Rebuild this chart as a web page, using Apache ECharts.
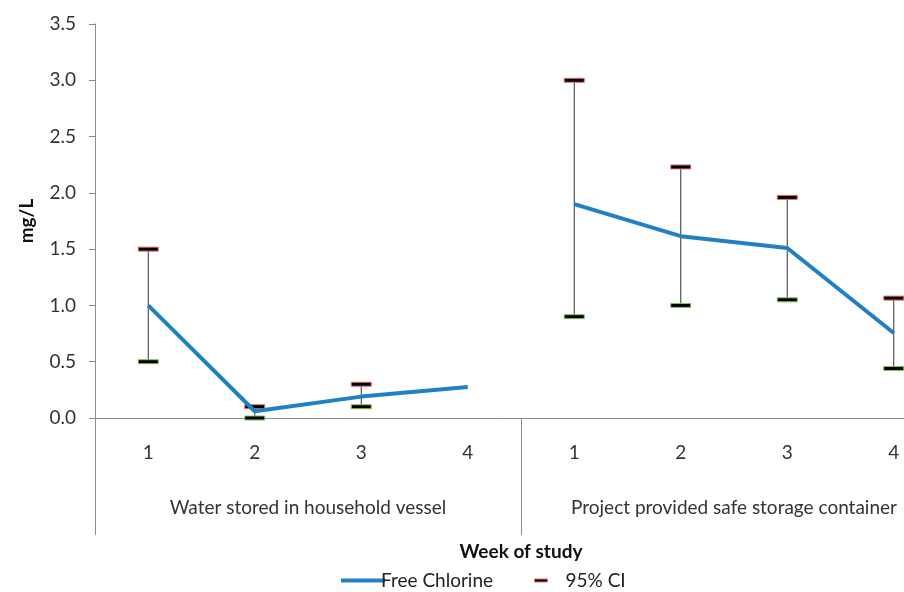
<!DOCTYPE html>
<html>
<head>
<meta charset="utf-8">
<script src="https://cdn.jsdelivr.net/npm/echarts@6/dist/echarts.min.js"></script>
<style>
	html, body { margin: 0; padding: 0; background: #fff; }
	#chart { width: 904px; height: 592px; }
</style>
</head>
<body>
<div id="chart"></div>
<script>
"use strict";

var weeks = ['1', '2', '3', '4', '1', '2', '3', '4'];
var groups = ['Water stored in household vessel', 'Project provided safe storage container'];

// free chlorine, one run for each storage type (line is broken between them)
var chlorineHousehold = [1.0, 0.06, 0.19, 0.275, '-', '-', '-', '-'];
var chlorineProject = ['-', '-', '-', '-', 1.9, 1.615, 1.51, 0.755];

// 95% CI bounds, week 4 of household has none
var ciLow = [0.5, 0.0, 0.1, null, 0.9, 1.0, 1.05, 0.44];
var ciHigh = [1.5, 0.1, 0.3, null, 3.0, 2.23, 1.96, 1.065];

var yTicks = { min: 0, max: 3.5, interval: 0.5 };

var FONT = 'Lato';
var FONT_SIZE = 19;
var AXIS_GREY = '#8c8c8c';
var LINE_BLUE = '#2180c4';

var ciData = [];
for (var i = 0; i < weeks.length; i++) {
	if (ciLow[i] !== null) {
		ciData.push([i, ciLow[i], ciHigh[i]]);
	}
}

function renderCI(params, api) {
	var lo = api.coord([api.value(0), api.value(1)]);
	var hi = api.coord([api.value(0), api.value(2)]);
	var w = 20, h = 4;
	return {
		type: 'group',
		children: [{
			type: 'line',
			shape: { x1: lo[0], y1: lo[1], x2: hi[0], y2: hi[1] },
			style: { stroke: '#333', lineWidth: 1 }
		}, {
			type: 'rect',
			shape: { x: hi[0] - w / 2, y: hi[1] - h / 2, width: w, height: h },
			style: { fill: '#000', stroke: '#e87070', lineWidth: 1 }
		}, {
			type: 'rect',
			shape: { x: lo[0] - w / 2, y: lo[1] - h / 2, width: w, height: h },
			style: { fill: '#000', stroke: '#8cc05a', lineWidth: 1 }
		}]
	};
}

var chart = echarts.init(document.getElementById('chart'));

chart.setOption({
	animation: false,
	textStyle: { fontFamily: FONT },
	grid: {
		left: 95,
		top: 24,
		width: 852,
		height: 394,
		outerBoundsMode: 'none',
		containLabel: false
	},
	legend: [{
		left: 336,
		top: 566,
		itemWidth: 44,
		itemHeight: 4,
		itemGap: 4,
		data: [{ name: 'Free Chlorine', icon: 'rect', itemStyle: { color: LINE_BLUE } }],
		textStyle: { fontFamily: FONT, fontSize: FONT_SIZE, color: '#222', padding: [0, 0, 0, -9] }
	}, {
		left: 529,
		top: 566,
		itemWidth: 13,
		itemHeight: 3,
		itemGap: 18,
		data: [{ name: '95% CI', icon: 'rect', itemStyle: { color: '#000', borderColor: '#e87070', borderWidth: 1 } }],
		textStyle: { fontFamily: FONT, fontSize: FONT_SIZE, color: '#222', padding: [0, 0, 0, 13] }
	}],
	xAxis: [{
		type: 'category',
		position: 'bottom',
		data: weeks,
		boundaryGap: true,
		axisLine: { show: true, lineStyle: { color: AXIS_GREY, width: 1 } },
		axisTick: { show: false },
		axisLabel: { margin: 25, fontSize: FONT_SIZE, color: '#333', fontFamily: FONT },
		name: 'Week of study',
		nameLocation: 'middle',
		nameGap: 124,
		nameTextStyle: { fontSize: FONT_SIZE, fontWeight: 'bold', color: '#111', fontFamily: FONT }
	}, {
		type: 'category',
		position: 'bottom',
		data: groups,
		boundaryGap: true,
		axisLine: { show: false },
		axisTick: { show: true, interval: 0, length: 117, lineStyle: { color: AXIS_GREY, width: 1 } },
		axisLabel: { margin: 80, fontSize: FONT_SIZE, color: '#333', fontFamily: FONT, interval: 0 }
	}],
	yAxis: {
		type: 'value',
		min: yTicks.min,
		max: yTicks.max,
		interval: yTicks.interval,
		splitLine: { show: false },
		axisLine: { show: true, lineStyle: { color: AXIS_GREY, width: 1 } },
		axisTick: { show: true, length: 6, lineStyle: { color: AXIS_GREY } },
		axisLabel: {
			margin: 19,
			fontSize: FONT_SIZE,
			color: '#333',
			fontFamily: FONT,
			formatter: function(v) { return v.toFixed(1); }
		},
		name: 'mg/L',
		nameLocation: 'middle',
		nameGap: 59,
		nameRotate: 90,
		nameTextStyle: { fontSize: FONT_SIZE, fontWeight: 'bold', color: '#111', fontFamily: FONT }
	},
	series: [{
		name: '95% CI',
		type: 'custom',
		renderItem: renderCI,
		data: ciData,
		encode: { x: 0, y: [1, 2] },
		z: 2
	}, {
		name: 'Free Chlorine',
		type: 'line',
		data: chlorineHousehold,
		symbol: 'none',
		connectNulls: false,
		lineStyle: { color: LINE_BLUE, width: 4 },
		itemStyle: { color: LINE_BLUE },
		z: 3
	}, {
		name: 'Free Chlorine',
		type: 'line',
		data: chlorineProject,
		symbol: 'none',
		connectNulls: false,
		lineStyle: { color: LINE_BLUE, width: 4 },
		itemStyle: { color: LINE_BLUE },
		z: 3
	}]
});
</script>
</body>
</html>
